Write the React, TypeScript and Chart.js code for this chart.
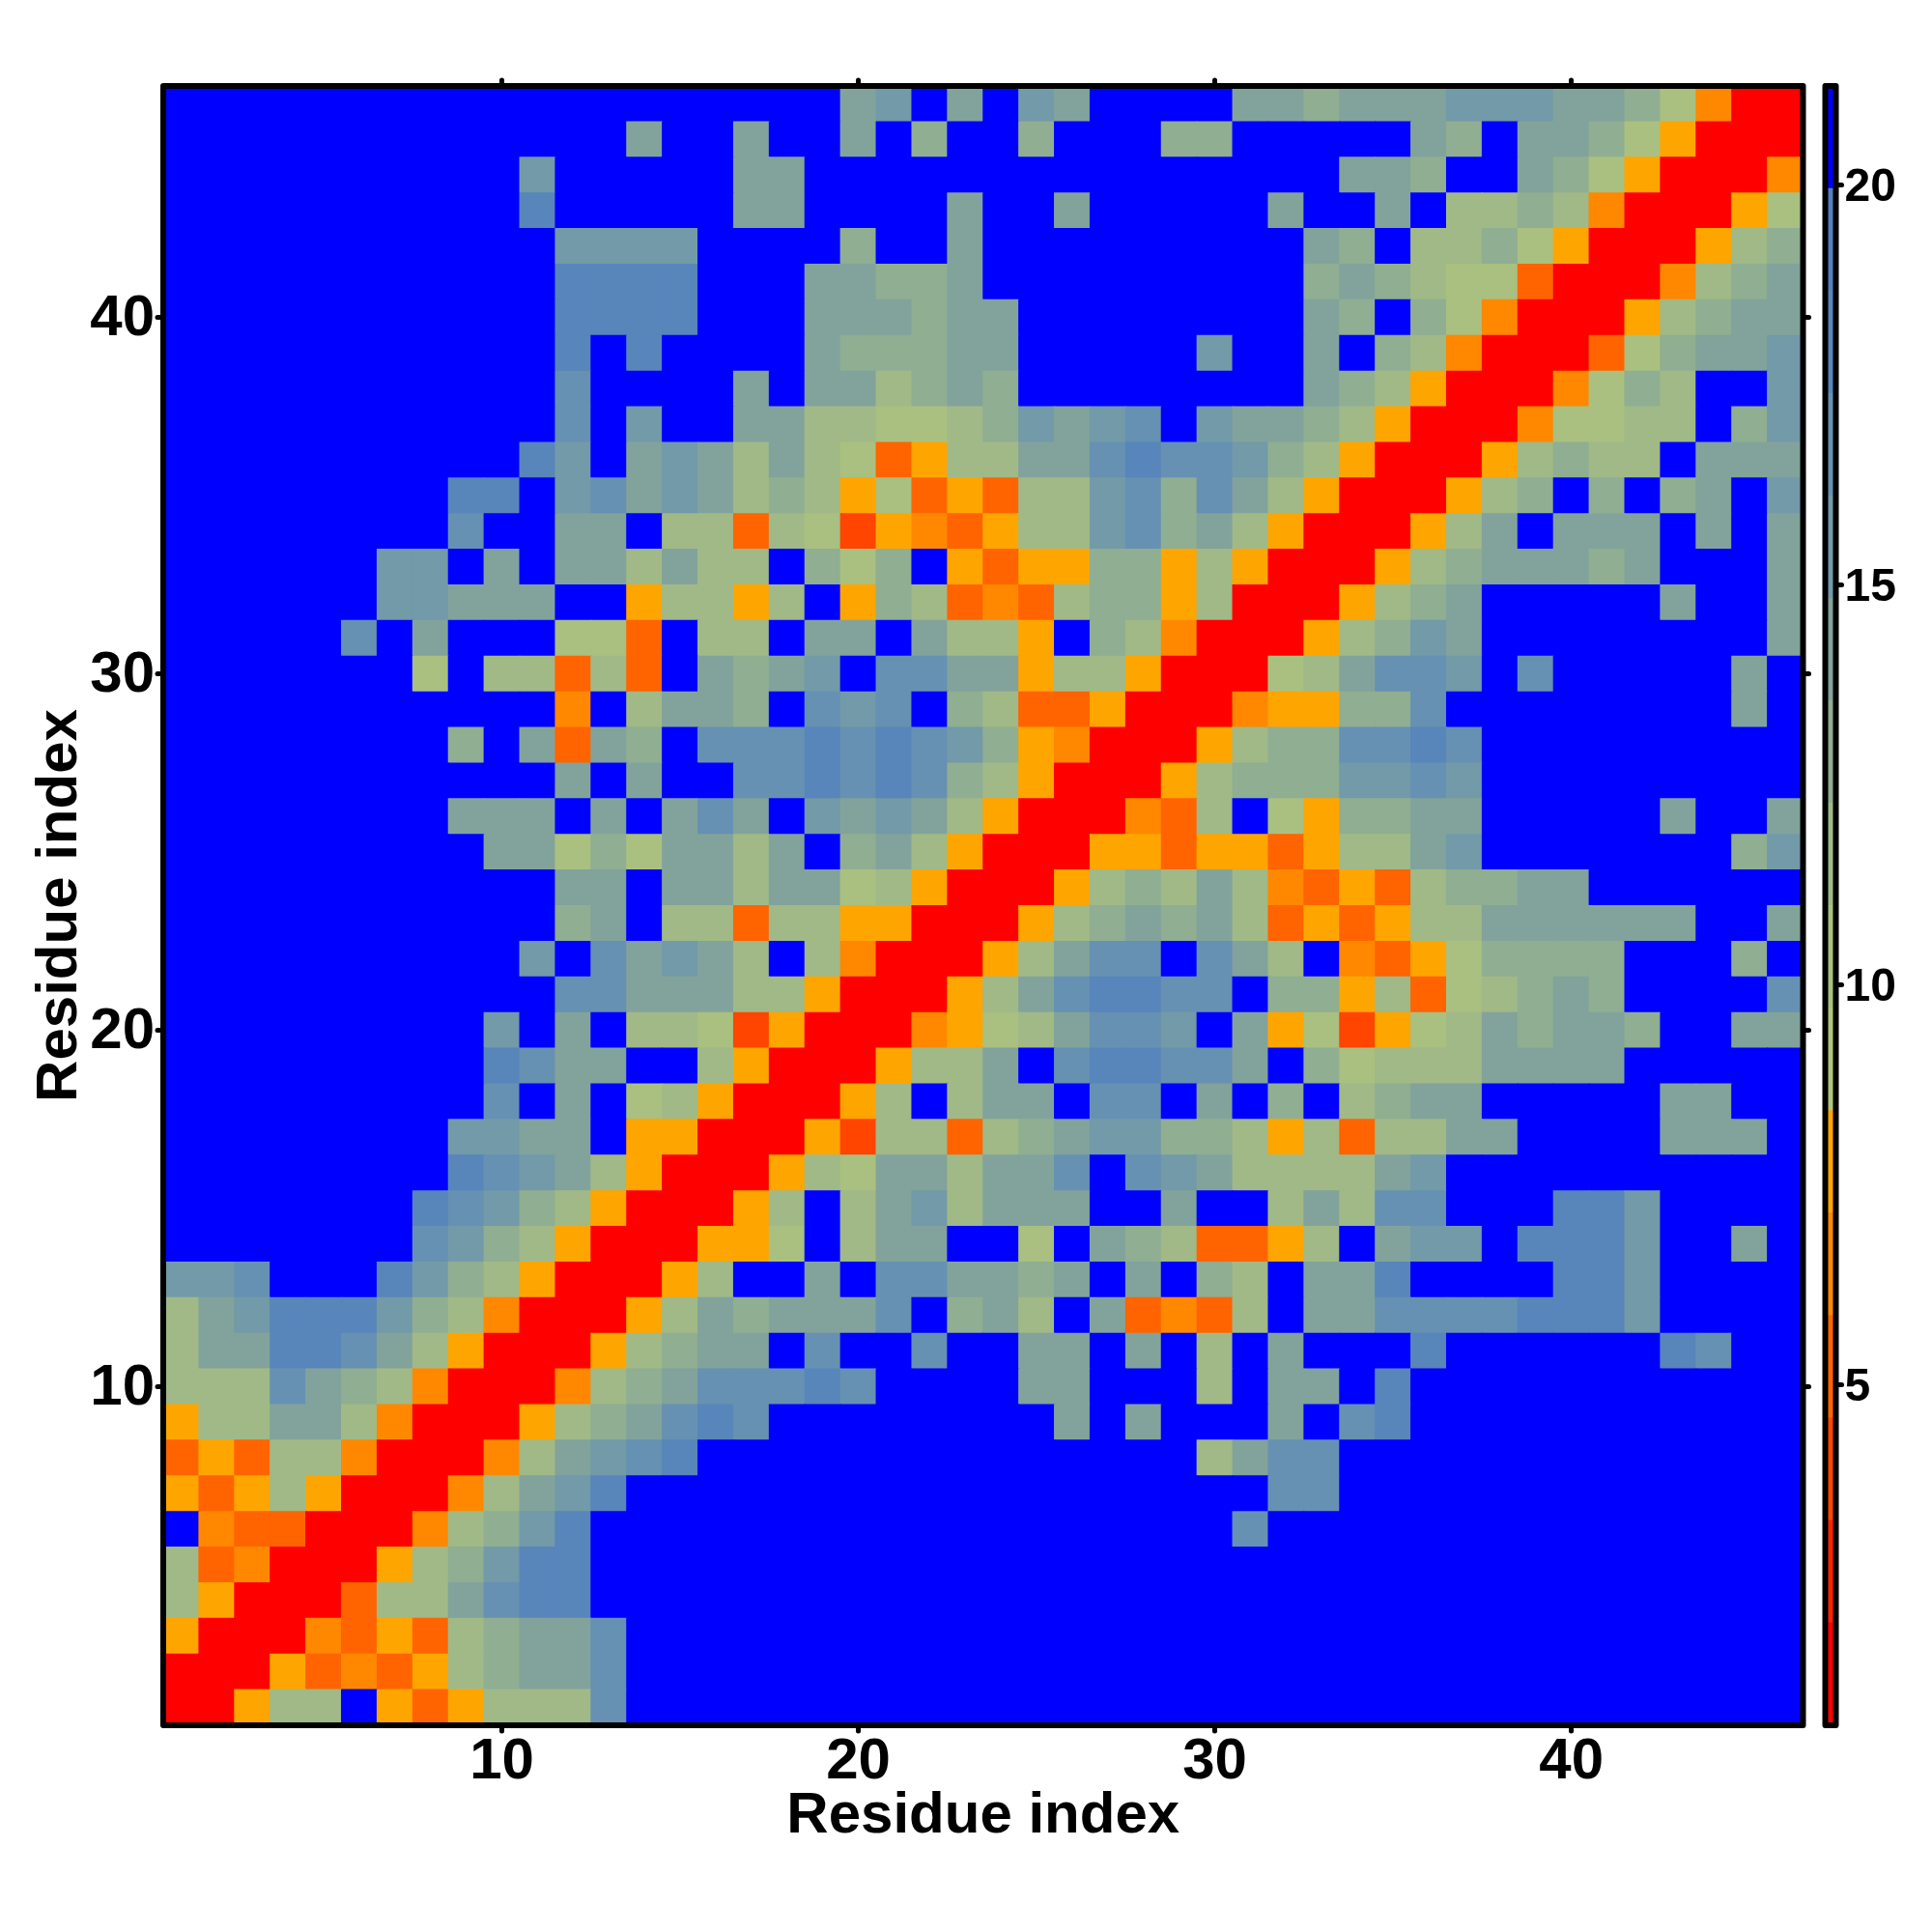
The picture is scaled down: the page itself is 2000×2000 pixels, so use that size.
import React, { useEffect, useRef } from "react";
import { Chart, registerables } from "chart.js";

Chart.register(...registerables);

// Colour of each of the 16 levels of the scale, low to high.
const levelColors = [
  "#ff0000", "#ff2200", "#ff4500", "#ff6400", "#ff8800", "#ffa500",
  "#b0c67a", "#a9c080", "#a0b987", "#8fae92", "#82a39b", "#729aa8",
  "#6691b2", "#5885ba", "#5380be", "#0000ff",
];

// One string per row, from residue 46 (top) down to residue 1; each hex digit
// is the level of the cell for residues 1..46 (spaces are only for reading).
const rows = [
  "ffffffffff fffffffffa bfafbaffff aa9aaabbba a97400",
  "ffffffffff fffaffaffa f9ff9fff99 fffffa9faa 975000",
  "ffffffffff bfffffaaff ffffffffff fffaa9ffa9 750004",
  "ffffffffff dfffffaaff ffaffaffff faffaf8898 400057",
  "ffffffffff fbbbbffff9 ffafffffff ffa9f88975 000589",
  "ffffffffff fddddfffaa 99afffffff ff9a987730 00489a",
  "ffffffffff fddddfffaa a9aaffffff ffa9f97400 0589aa",
  "ffffffffff fdfdffffa9 99aafffffb ffaf984000 379aab",
  "ffffffffff fcffffafaa 89a9ffffff ffa9850004 798ffb",
  "ffffffffff fcfbffaa88 7789babcfb aa98500047 788f9b",
  "ffffffffff dbfaba8a87 3588aacdcc b985000589 88faaa",
  "ffffffffdd fbcaba8985 735388bc9c a85000589f 9f9afb",
  "ffffffffcf faaf883872 543588bc9a 8500058afa aafafa",
  "ffffffbbfa faa8a88f97 9f53559958 5000589aaa 9afffa",
  "ffffffbbaa aff58858f5 9834389958 000589afff ffaffa",
  "fffffcfaff f773f88faa fa885f9840 00589bafff fffffa",
  "fffffff7f8 8383fa9abf ccaa588500 078accbfcf ffffaf",
  "ffffffffff f4f8aa9fcb cf98335000 45599cffff ffffaf",
  "ffffffff9f a3a9fcccdc dcb9540005 899ccdcfff ffffff",
  "ffffffffff fafaffccdc dc98500058 999bbcbfff ffffff",
  "ffffffffaa afafacafba ba85000438 f7599aafff ffaffa",
  "fffffffffa a797aa8af9 a850005535 53588abfff ffff9b",
  "ffffffffff faafaa8aa7 850005898a 84353899aa ffffff",
  "ffffffffff f9af883885 5000589a9a 8353588aaa aaaffa",
  "ffffffffff bfcaba8f84 00058accfc a8f4357999 9fff9f",
  "ffffffffff fccaaa8850 0058acddcc f99583789a 9ffffc",
  "fffffffffb faf8872500 04578accbf a572578a9a a9ffaa",
  "fffffffffd caaff85000 588afcddcc af97888aaa afffff",
  "fffffffffc faf7850005 8f8aafccfa f9f89aafff ffaaff",
  "ffffffffbb aaf5500052 88389abb99 858388aaff ffaaaf",
  "ffffffffdc ba85000587 aa8aacfcba 8888abffff ffffff",
  "fffffffdcb 98500058f8 ab8aaaffaf f8a8ccfffd dbffff",
  "fffffffcb9 85000557f8 aaff7fa983 358fabbfdd dbffaf",
  "bbcfffdb98 500058ffaf ccaa9afaf9 8faadffffd dbffff",
  "8abdddb984 00058a9aaa cf9a8fa343 8faaccccdd dbffff",
  "8aaddca850 00589aafcf fcffaafaf8 fafffdffff ffdcff",
  "888ca98400 0489acccdc ffffaafff8 faafdfffff ffffff",
  "588aa84000 589acdcfff fffffafaff fafcdfffff ffffff",
  "3538840004 8abcdfffff fffffffff8 accfffffff ffffff",
  "5358500048 abdfffffff ffffffffff fccfffffff ffffff",
  "f433000489 bdffffffff ffffffffff cfffffffff ffffff",
  "834000589b ddffffffff ffffffffff ffffffffff ffffff",
  "85000388ac ddffffffff ffffffffff ffffffffff ffffff",
  "5000435389 aacfffffff ffffffffff ffffffffff ffffff",
  "0005343589 aacfffffff ffffffffff ffffffffff ffffff",
  "00588f5358 88cfffffff ffffffffff ffffffffff ffffff",
];

const axisTicks = [10, 20, 30, 40];
const colorbarTicks = [5, 10, 15, 20];
const axisTitle = "Residue index";
const scaleMin = 0.74;
const scaleMax = 21.24;

const FONT = "'Liberation Sans', Arial, sans-serif";
const LEFT = 169;
const RIGHT = 1866.5;
const TOP = 89;
const BOTTOM = 1786;
const BAR_LEFT = 1889.5;
const BAR_RIGHT = 1900.5;
const SIZE = 2000;
const FRAME = 6;
const PAD_LEFT = 32;
const PAD_BOTTOM = 90;

const parsedRows = rows.map((r) => r.replace(/\s/g, ""));
const cells: { x: number; y: [number, number] }[] = [];
const cellColors: string[] = [];
parsedRows.forEach((row, k) => {
  const residueY = parsedRows.length - k;
  row.split("").forEach((ch, c) => {
    cells.push({ x: c + 1, y: [residueY - 0.5, residueY + 0.5] });
    cellColors.push(levelColors[parseInt(ch, 16)]);
  });
});

const frameAndCaps = {
  id: "frameAndCaps",
  beforeDraw(chart: any) {
    chart.ctx.lineCap = "round";
  },
  afterDraw(chart: any) {
    const { ctx, chartArea: a } = chart;
    ctx.save();
    ctx.strokeStyle = "#000";
    ctx.lineWidth = FRAME;
    ctx.lineJoin = "round";
    ctx.strokeRect(a.left, a.top, a.right - a.left, a.bottom - a.top);
    ctx.restore();
  },
};

const fixedTicks = (values: number[]) => (scale: any) => {
  scale.ticks = values.map((value) => ({ value }));
};
const fitHeight = (h: number) => (scale: any) => {
  scale.height = h;
};
const fitWidth = (w: number) => (scale: any) => {
  scale.width = w;
};
const tickGrid = {
  offset: false,
  drawOnChartArea: false,
  drawTicks: true,
  tickLength: 6,
  tickWidth: 5,
  tickColor: "#000",
};
const tickFont = { family: FONT, weight: "bold" as const, size: 60, lineHeight: 1 };
const titleFont = { family: FONT, weight: "bold" as const, size: 60, lineHeight: 1 };

export default function App() {
  const mapRef = useRef<HTMLCanvasElement>(null);
  const barRef = useRef<HTMLCanvasElement>(null);

  useEffect(() => {
    const axisBase = {
      type: "linear" as const,
      min: 0.5,
      max: 46.5,
      offset: false,
      border: { display: false },
      grid: tickGrid,
      afterBuildTicks: fixedTicks(axisTicks),
    };
    const map = new Chart(mapRef.current!, {
      type: "bar",
      data: {
        datasets: [
          {
            data: cells as any,
            backgroundColor: cellColors,
            barPercentage: 1,
            categoryPercentage: 1,
            borderWidth: 0,
            inflateAmount: 0.5,
          },
        ],
      },
      options: {
        animation: false,
        responsive: false,
        events: [],
        layout: { padding: { left: PAD_LEFT, right: 0, top: 0, bottom: PAD_BOTTOM } },
        plugins: { legend: { display: false }, tooltip: { enabled: false } },
        scales: {
          x: {
            ...axisBase,
            position: "bottom",
            ticks: { font: tickFont, color: "#000", padding: 2, maxRotation: 0, autoSkip: false },
            title: { display: true, text: axisTitle, color: "#000", font: titleFont, padding: 0 },
            afterFit: fitHeight(SIZE - PAD_BOTTOM - BOTTOM),
          },
          y: {
            ...axisBase,
            position: "left",
            ticks: { font: tickFont, color: "#000", padding: 3, labelOffset: 2, autoSkip: false },
            title: { display: true, text: axisTitle, color: "#000", font: titleFont, padding: 0 },
            afterFit: fitWidth(LEFT - PAD_LEFT),
          },
          x2: {
            ...axisBase,
            axis: "x",
            position: "top",
            ticks: { display: false },
            afterFit: fitHeight(TOP),
          },
          y2: {
            ...axisBase,
            axis: "y",
            position: "right",
            ticks: { display: false },
            afterFit: fitWidth(SIZE - RIGHT),
          },
        } as any,
      },
      plugins: [frameAndCaps],
    });

    const binSize = (scaleMax - scaleMin) / levelColors.length;
    const bar = new Chart(barRef.current!, {
      type: "bar",
      data: {
        labels: ["scale"],
        datasets: levelColors.map((color, i) => ({
          data: [[scaleMin + i * binSize, scaleMin + (i + 1) * binSize]] as any,
          backgroundColor: color,
          barPercentage: 1,
          categoryPercentage: 1,
          borderWidth: 0,
          grouped: false,
        })),
      },
      options: {
        animation: false,
        responsive: false,
        events: [],
        layout: { padding: { left: BAR_LEFT, right: 0, top: TOP, bottom: SIZE - BOTTOM } },
        plugins: { legend: { display: false }, tooltip: { enabled: false } },
        scales: {
          x: { type: "category", display: false, offset: true },
          y: {
            type: "linear",
            position: "right",
            min: scaleMin,
            max: scaleMax,
            border: { display: false },
            grid: tickGrid,
            afterBuildTicks: fixedTicks(colorbarTicks),
            ticks: {
              font: { family: FONT, weight: "bold", size: 48, lineHeight: 1 },
              color: "#000",
              padding: 3,
              labelOffset: 3,
              autoSkip: false,
            },
            afterFit: fitWidth(SIZE - BAR_RIGHT),
          },
        } as any,
      },
      plugins: [frameAndCaps],
    });

    return () => {
      map.destroy();
      bar.destroy();
    };
  }, []);

  const canvasStyle: React.CSSProperties = {
    position: "absolute",
    left: 0,
    top: 0,
    display: "block",
  };
  return (
    <div style={{ position: "absolute", left: 0, top: 0, width: SIZE, height: SIZE, background: "#fff" }}>
      <canvas ref={mapRef} width={SIZE} height={SIZE} style={canvasStyle} />
      <canvas ref={barRef} width={SIZE} height={SIZE} style={canvasStyle} />
    </div>
  );
}
